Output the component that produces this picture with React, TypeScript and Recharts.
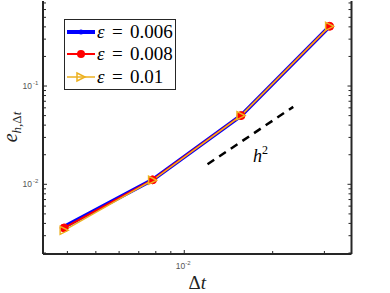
import {
  LineChart,
  Line,
  XAxis,
  YAxis,
  Legend,
  ReferenceDot,
} from 'recharts';

// time steps (1/256 ... 1/32)
const dtValues = [0.0039, 0.0078, 0.0156, 0.03125];
const err006 = [0.0037, 0.0111, 0.05, 0.405];
const err008 = [0.0036, 0.0111, 0.05, 0.405];
const err01 = [0.0034, 0.011, 0.05, 0.405];

// slope-2 reference segment
const refDt = [0.012, 0.0235];
const refErr = [0.016, 0.0614];

const xTicks = [0.004, 0.005, 0.006, 0.007, 0.008, 0.009, 0.01, 0.02, 0.03];
const xMajor = [0.01];
const yTicks = [
  0.002, 0.003, 0.004, 0.005, 0.006, 0.007, 0.008, 0.009, 0.01,
  0.02, 0.03, 0.04, 0.05, 0.06, 0.07, 0.08, 0.09, 0.1,
  0.2, 0.3, 0.4, 0.5, 0.6, 0.7,
];
const yMajor = [0.01, 0.1];

const legendItems = ['0.006', '0.008', '0.01'];

const BLUE = '#0000FF';
const RED = '#FF0000';
const ORANGE = '#EDB120';
const AXIS = '#262626';

const toPoints = (xs: number[], ys: number[]) => xs.map((x, i) => ({ x, y: ys[i] }));

const exponent = (v: number) => Math.round(Math.log10(v));

function makeXTick(side: 'bottom' | 'top') {
  return (props: any) => {
    const { x, y, payload } = props;
    const major = xMajor.includes(payload.value);
    const len = major ? 4 : 3;
    const dir = side === 'bottom' ? -1 : 1;
    return (
      <g>
        <line x1={x} x2={x} y1={y} y2={y + dir * len} stroke={AXIS} strokeWidth={1} />
        {side === 'bottom' && major && (
          <text x={x - 1} y={y + 15} textAnchor='middle' fill='#555' fontFamily='Liberation Sans' fontSize={8.5}>
            10
            <tspan fontSize={6} dy={-4}>{exponent(payload.value)}</tspan>
          </text>
        )}
      </g>
    );
  };
}

function makeYTick(side: 'left' | 'right') {
  return (props: any) => {
    const { x, y, payload } = props;
    const major = yMajor.includes(payload.value);
    const len = major ? 4 : 3;
    const dir = side === 'left' ? 1 : -1;
    return (
      <g>
        <line x1={x} x2={x + dir * len} y1={y} y2={y} stroke={AXIS} strokeWidth={1} />
        {side === 'left' && major && (
          <text x={x - 11} y={y + 3} textAnchor='end' fill='#555' fontFamily='Liberation Sans' fontSize={8.5}>
            10
          </text>
        )}
        {side === 'left' && major && (
          <text x={x - 10} y={y - 1} textAnchor='start' fill='#555' fontFamily='Liberation Sans' fontSize={6}>
            {exponent(payload.value)}
          </text>
        )}
      </g>
    );
  };
}

const BlueDot = (props: any) => <circle cx={props.cx} cy={props.cy} r={2.5} fill={BLUE} />;
const RedDot = (props: any) => (
  <circle cx={props.cx} cy={props.cy} r={4} fill={RED} stroke={RED} strokeWidth={1} />
);
const TriDot = (props: any) => {
  const { cx, cy } = props;
  if (cx == null || cy == null) return <g />;
  const s = 4;
  return (
    <polygon
      points={`${cx - s},${cy - s} ${cx + s},${cy} ${cx - s},${cy + s}`}
      fill='none'
      stroke={ORANGE}
      strokeWidth={1.5}
    />
  );
};

function LegendBox() {
  const samples = [
    { color: BLUE, width: 4, marker: 'dot' },
    { color: RED, width: 2, marker: 'circle' },
    { color: ORANGE, width: 1.5, marker: 'tri' },
  ];
  const rowY = [13, 35, 58];
  return (
    <div
      style={{
        position: 'relative',
        width: 112,
        height: 71,
        boxSizing: 'border-box',
        border: `1.5px solid ${AXIS}`,
        background: '#fff',
      }}
    >
      <svg width={112} height={71} style={{ position: 'absolute', left: -1.5, top: -1.5 }}>
        {samples.map((s, i) => {
          const cy = rowY[i];
          return (
            <g key={i}>
              <line x1={3} x2={31} y1={cy} y2={cy} stroke={s.color} strokeWidth={s.width} />
              {s.marker === 'dot' && <circle cx={17} cy={cy} r={2.5} fill={s.color} />}
              {s.marker === 'circle' && <circle cx={17} cy={cy} r={4} fill={s.color} />}
              {s.marker === 'tri' && (
                <polygon
                  points={`13,${cy - 4} 21,${cy} 13,${cy + 4}`}
                  fill='none'
                  stroke={s.color}
                  strokeWidth={1.5}
                />
              )}
              <text y={cy + 6} fontFamily='Liberation Serif' fontSize={19} fill='#000'>
                <tspan x={33} fontStyle='italic'>ε</tspan>
                <tspan x={48}>=</tspan>
                <tspan x={66}>{legendItems[i]}</tspan>
              </text>
            </g>
          );
        })}
      </svg>
    </div>
  );
}

const YLabel = () => (
  <text
    x={17}
    y={127}
    transform='rotate(-90, 17, 127)'
    textAnchor='middle'
    fontFamily='Liberation Serif'
    fill='#222'
  >
    <tspan fontStyle='italic' fontSize={20}>e</tspan>
    <tspan fontStyle='italic' fontSize={13} dy={4}>h,</tspan>
    <tspan fontSize={13}>Δ</tspan>
    <tspan fontStyle='italic' fontSize={13}>t</tspan>
  </text>
);

const XLabel = (props: any) => {
  const vb = props.viewBox;
  const cx = vb.x + vb.width / 2;
  return (
    <text x={cx} y={289} textAnchor='middle' fontFamily='Liberation Serif' fontSize={19} fill='#222'>
      <tspan>Δ</tspan>
      <tspan fontStyle='italic'>t</tspan>
    </text>
  );
};

const H2Label = (props: any) => {
  const vb = props.viewBox;
  return (
    <text x={vb.x} y={vb.y} fontFamily='Liberation Serif' fill='#000'>
      <tspan fontStyle='italic' fontSize={18}>h</tspan>
      <tspan fontSize={12} dy={-8}>2</tspan>
    </text>
  );
};

export default function App() {
  return (
    <div style={{ width: 390, height: 293, background: '#fff' }}>
      <style>{'body{margin:0}'}</style>
      <LineChart width={390} height={293} margin={{ top: 1, right: 0, left: 0, bottom: 0 }}>
        <XAxis
          xAxisId='b'
          dataKey='x'
          type='number'
          scale='log'
          domain={[0.003304, 0.0371]}
          allowDataOverflow
          ticks={xTicks}
          interval={0}
          height={39}
          tickSize={0}
          tickMargin={0}
          tickLine={false}
          tick={makeXTick('bottom')}
          axisLine={{ stroke: AXIS, strokeWidth: 2 }}
          label={<XLabel />}
        />
        <XAxis
          xAxisId='t'
          orientation='top'
          dataKey='x'
          type='number'
          scale='log'
          domain={[0.003304, 0.0371]}
          allowDataOverflow
          ticks={xTicks}
          interval={0}
          height={0}
          tickSize={0}
          tickMargin={0}
          tickLine={false}
          tick={makeXTick('top')}
          axisLine={{ stroke: AXIS, strokeWidth: 2 }}
        />
        <YAxis
          yAxisId='l'
          dataKey='y'
          type='number'
          scale='log'
          domain={[0.001954, 0.733]}
          allowDataOverflow
          ticks={yTicks}
          interval={0}
          width={43}
          tickSize={0}
          tickMargin={0}
          tickLine={false}
          tick={makeYTick('left')}
          axisLine={{ stroke: AXIS, strokeWidth: 2 }}
          label={<YLabel />}
        />
        <YAxis
          yAxisId='r'
          orientation='right'
          dataKey='y'
          type='number'
          scale='log'
          domain={[0.001954, 0.733]}
          allowDataOverflow
          ticks={yTicks}
          interval={0}
          width={38.5}
          tickSize={0}
          tickMargin={0}
          tickLine={false}
          tick={makeYTick('right')}
          axisLine={{ stroke: AXIS, strokeWidth: 2 }}
        />
        <Legend
          layout='horizontal'
          verticalAlign='middle'
          align='center'
          wrapperStyle={{ left: 64, top: 19, width: 112, height: 71 }}
          content={() => <LegendBox />}
        />
        <Line
          xAxisId='b'
          yAxisId='l'
          data={toPoints(dtValues, err006)}
          dataKey='y'
          stroke={BLUE}
          strokeWidth={4}
          dot={<BlueDot />}
          isAnimationActive={false}
        />
        <Line
          xAxisId='b'
          yAxisId='l'
          data={toPoints(dtValues, err008)}
          dataKey='y'
          stroke={RED}
          strokeWidth={2}
          dot={<RedDot />}
          isAnimationActive={false}
        />
        <Line
          xAxisId='b'
          yAxisId='l'
          data={toPoints(dtValues, err01)}
          dataKey='y'
          stroke={ORANGE}
          strokeWidth={1.5}
          dot={<TriDot />}
          isAnimationActive={false}
        />
        <Line
          xAxisId='b'
          yAxisId='l'
          data={toPoints(refDt, refErr)}
          dataKey='y'
          stroke='#000'
          strokeWidth={2.5}
          strokeDasharray='8 6'
          dot={false}
          isAnimationActive={false}
        />
        <ReferenceDot
          xAxisId='b'
          yAxisId='l'
          x={0.01713}
          y={0.0169}
          r={0}
          fill='none'
          stroke='none'
          label={<H2Label />}
        />
      </LineChart>
    </div>
  );
}
